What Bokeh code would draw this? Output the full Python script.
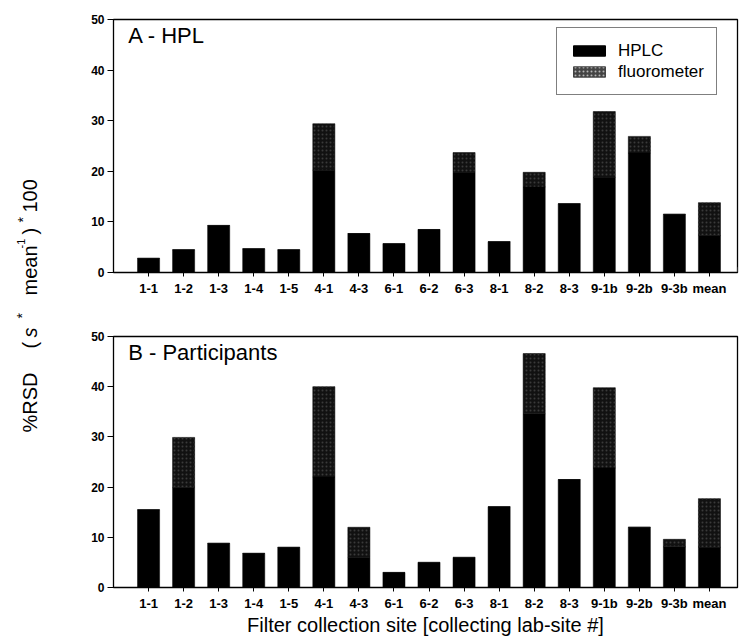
import math
from bokeh.plotting import figure
from bokeh.layouts import row, column
from bokeh.models import Range1d, FixedTicker, Legend, LegendItem, Label, ColumnDataSource
from bokeh.core.properties import value
from bokeh.embed import file_html
from bokeh.resources import INLINE

# ---- data ----
sites = ["1-1", "1-2", "1-3", "1-4", "1-5", "4-1", "4-3", "6-1", "6-2", "6-3",
         "8-1", "8-2", "8-3", "9-1b", "9-2b", "9-3b", "mean"]

hpl_total = [2.8, 4.5, 9.3, 4.7, 4.5, 29.4, 7.7, 5.7, 8.5, 23.7,
             6.1, 19.8, 13.6, 31.8, 26.9, 11.5, 13.8]
hpl_fluor = [0, 0, 0, 0, 0, 9.2, 0, 0, 0, 3.9,
             0, 2.9, 0, 13.0, 3.3, 0, 6.5]

part_total = [15.5, 29.9, 8.8, 6.8, 8.0, 40.0, 12.0, 3.0, 5.0, 6.0,
              16.1, 46.6, 21.5, 39.8, 12.0, 9.6, 17.7]
part_fluor = [0, 10.0, 0, 0, 0, 18.0, 6.0, 0, 0, 0,
              0, 12.0, 0, 16.0, 0, 1.5, 9.7]

y_ticks = [0, 10, 20, 30, 40, 50]

FONT = "Liberation Sans"
BAR_W = 0.63
FLUOR_FILL = "#111111"
FLUOR_HATCH = "#3a3a3a"


def make_panel(totals, fluor, title, height, top, bottom, with_xlabel, with_legend):
    xs = list(range(len(sites)))
    hplc_top = [t - f for t, f in zip(totals, fluor)]
    src = ColumnDataSource(dict(x=xs, site=sites, hplc_top=hplc_top, total=totals))
    p = figure(width=679, height=height,
               x_range=Range1d(-1.0, 16.8), y_range=Range1d(0, 50),
               output_backend="svg", toolbar_location=None,
               min_border_left=53, min_border_right=2,
               min_border_top=top, min_border_bottom=bottom)
    p.xgrid.visible = False
    p.ygrid.visible = False
    p.outline_line_color = "black"
    p.outline_line_width = 1.3

    p.vbar(x="x", bottom=0, top="hplc_top", width=BAR_W, source=src,
           fill_color="black", line_color="black", line_width=0.5)
    p.vbar(x="x", bottom="hplc_top", top="total", width=BAR_W, source=src,
           fill_color=FLUOR_FILL, line_color="black", line_width=0.5,
           hatch_pattern=".", hatch_color=FLUOR_HATCH, hatch_scale=4,
           hatch_weight=1)

    # axes
    xa = p.xaxis[0]
    xa.ticker = FixedTicker(ticks=xs)
    xa.major_label_overrides = {i: s for i, s in enumerate(sites)}
    xa.major_label_text_font = FONT
    xa.major_label_text_font_style = "bold"
    xa.major_label_text_font_size = "13px"
    xa.major_label_text_color = "black"
    xa.major_tick_out = 4
    xa.major_tick_in = 0
    xa.minor_tick_out = 0
    xa.minor_tick_in = 0
    xa.major_label_standoff = 4
    xa.axis_line_color = "black"

    ya = p.yaxis[0]
    ya.ticker = FixedTicker(ticks=y_ticks)
    ya.major_label_text_font = FONT
    ya.major_label_text_font_style = "bold"
    ya.major_label_text_font_size = "12px"
    ya.major_label_text_color = "black"
    ya.major_tick_out = 6
    ya.major_tick_in = 0
    ya.minor_tick_out = 0
    ya.minor_tick_in = 0
    ya.major_label_standoff = 3
    ya.axis_line_color = "black"

    if with_xlabel:
        xa.axis_label = "Filter collection site [collecting lab-site #]"
        xa.axis_label_text_font = FONT
        xa.axis_label_text_font_style = "normal"
        xa.axis_label_text_font_size = "20px"
        xa.axis_label_text_color = "black"
        xa.axis_label_standoff = 0

    p.add_layout(Label(x=-0.58, y=46.8, text=title, text_font=FONT,
                       text_font_size="22px", text_baseline="middle",
                       text_color="black"))

    if with_legend:
        # legend-only renderers, their single bar sits outside the visible x range
        leg_src = ColumnDataSource(dict(x=[100], top=[1]))
        d_h = p.vbar(x="x", top="top", width=0.5, source=leg_src,
                     fill_color="black", line_color="black")
        d_f = p.vbar(x="x", top="top", width=0.5, source=leg_src,
                     fill_color="#444444", line_color="#444444",
                     hatch_pattern=".", hatch_color="#b5b5b5", hatch_scale=4,
                     hatch_weight=1)
        legend = Legend(items=[LegendItem(label="HPLC", renderers=[d_h]),
                               LegendItem(label="fluorometer", renderers=[d_f])],
                        location=(443, 177))
        legend.border_line_color = "black"
        legend.border_line_width = 1
        legend.background_fill_color = "white"
        legend.background_fill_alpha = 1
        legend.padding = 12
        legend.spacing = 0
        legend.margin = 0
        legend.label_height = 21
        legend.glyph_height = 13
        legend.glyph_width = 40
        legend.label_standoff = 9
        legend.label_text_font = FONT
        legend.label_text_font_size = "17px"
        legend.label_text_color = "black"
        p.add_layout(legend, "center")
    return p


pA = make_panel(hpl_total, hpl_fluor, "A - HPL", 300, 19, 28, False, True)
pB = make_panel(part_total, part_fluor, "B - Participants", 339, 36, 52, True, False)

# left strip carrying the shared y-axis title
pl = figure(width=60, height=639, x_range=Range1d(0, 60), y_range=Range1d(0, 639),
            output_backend="svg", toolbar_location=None,
            min_border_left=0, min_border_right=0, min_border_top=0, min_border_bottom=0)
pl.axis.visible = False
pl.grid.visible = False
pl.outline_line_color = None

H = 639
pieces = [
    # text, screen y of start, x baseline, size, style
    ("%RSD", 432, 29, "20px", "normal"),
    ("(", 348, 29, "20px", "normal"),
    ("s", 337, 29, "20px", "italic"),
    ("*", 318, 21, "14px", "normal"),
    ("mean", 295, 29, "20px", "normal"),
    ("-1", 248, 20, "11px", "normal"),
    (")", 234, 29, "20px", "normal"),
    ("*", 222, 22, "14px", "normal"),
    ("100", 212, 29, "20px", "normal"),
]
for txt, sy, bx, size, style in pieces:
    pl.text(x=[bx], y=[H - sy], text=[txt], angle=math.pi / 2,
            text_align="left", text_baseline="alphabetic",
            text_font=value(FONT), text_font_size=value(size),
            text_font_style=style, text_color="black")

layout = row(pl, column(pA, pB))

open("out.html", "w").write(file_html(layout, INLINE))
